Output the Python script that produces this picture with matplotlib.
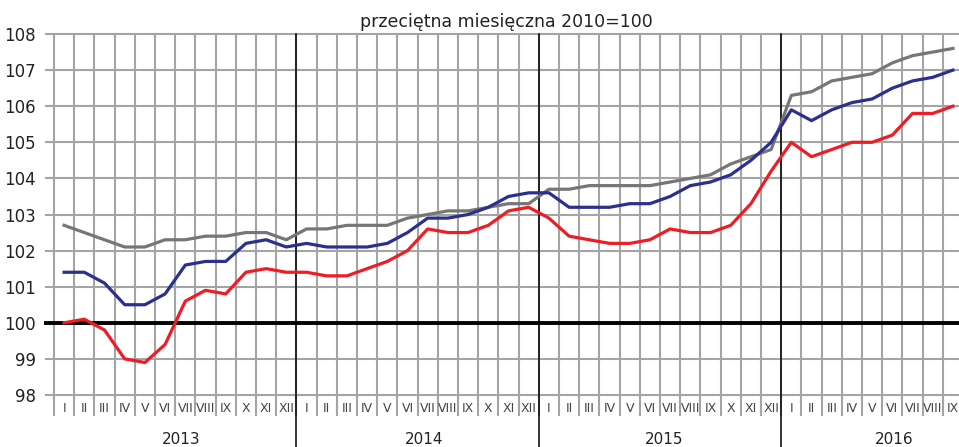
import matplotlib
matplotlib.use("Agg")
import matplotlib.pyplot as plt
import matplotlib.transforms as mtransforms
import numpy as np

months = ["I", "II", "III", "IV", "V", "VI", "VII", "VIII", "IX", "X", "XI", "XII"]
years = ["2013", "2014", "2015", "2016"]
month_labels = months * 3 + months[:9]

gray_series = [102.7, 102.5, 102.3, 102.1, 102.1, 102.3, 102.3, 102.4, 102.4, 102.5, 102.5, 102.3,
               102.6, 102.6, 102.7, 102.7, 102.7, 102.9, 103.0, 103.1, 103.1, 103.2, 103.3, 103.3,
               103.7, 103.7, 103.8, 103.8, 103.8, 103.8, 103.9, 104.0, 104.1, 104.4, 104.6, 104.8,
               106.3, 106.4, 106.7, 106.8, 106.9, 107.2, 107.4, 107.5, 107.6]
blue_series = [101.4, 101.4, 101.1, 100.5, 100.5, 100.8, 101.6, 101.7, 101.7, 102.2, 102.3, 102.1,
               102.2, 102.1, 102.1, 102.1, 102.2, 102.5, 102.9, 102.9, 103.0, 103.2, 103.5, 103.6,
               103.6, 103.2, 103.2, 103.2, 103.3, 103.3, 103.5, 103.8, 103.9, 104.1, 104.5, 105.0,
               105.9, 105.6, 105.9, 106.1, 106.2, 106.5, 106.7, 106.8, 107.0]
red_series = [100.0, 100.1, 99.8, 99.0, 98.9, 99.4, 100.6, 100.9, 100.8, 101.4, 101.5, 101.4,
              101.4, 101.3, 101.3, 101.5, 101.7, 102.0, 102.6, 102.5, 102.5, 102.7, 103.1, 103.2,
              102.9, 102.4, 102.3, 102.2, 102.2, 102.3, 102.6, 102.5, 102.5, 102.7, 103.3, 104.2,
              105.0, 104.6, 104.8, 105.0, 105.0, 105.2, 105.8, 105.8, 106.0]
yticks = [98, 99, 100, 101, 102, 103, 104, 105, 106, 107, 108]
title = "przeciętna miesięczna 2010=100"

GRID = "#a4a4a4"
plt.rcParams['font.family'] = ['DejaVu Sans']

fig = plt.figure(figsize=(9.59, 4.47), dpi=100)
L, R, T, B = 54, 959, 34, 395
ax = fig.add_axes([L / 959, 1 - B / 447, (R - L) / 959, (B - T) / 447])

n = len(month_labels)
x = np.arange(n)
ax.set_xlim(-0.5, 44.3)
ax.set_ylim(98, 108)

for s in ax.spines.values():
    s.set_visible(False)

trans = mtransforms.blended_transform_factory(ax.transData, ax.transAxes)
htrans = mtransforms.blended_transform_factory(ax.transAxes, ax.transData)
axh = B - T
# vertical month grid lines, extending into month-label row
for k in range(n + 1):
    xb = k - 0.5
    ax.plot([xb, xb], [-(415 - B) / axh, 1], transform=trans, color=GRID, lw=1.5,
            clip_on=False, zorder=1)
# horizontal grid lines with ticks extending to the left
for yv in yticks:
    ax.plot([-8 / (R - L), 1], [yv, yv], transform=htrans,
            color="black" if yv == 100 else GRID, lw=2.8 if yv == 100 else 1.5,
            clip_on=False, zorder=2 if yv == 100 else 1)

# year separators
for k in (12, 24, 36):
    ax.plot([k - 0.5, k - 0.5], [-(447 - B) / axh, 1], transform=trans, color="black",
            lw=1.1, clip_on=False, zorder=2)

ax.plot(x, gray_series, color="#767676", lw=2.3, zorder=3, solid_joinstyle="round")
ax.plot(x, blue_series, color="#2b2f8e", lw=2.3, zorder=4, solid_joinstyle="round")
ax.plot(x, red_series, color="#ee1d25", lw=2.3, zorder=5, solid_joinstyle="round")

ax.set_xticks([])
ax.set_yticks(yticks)
ax.set_yticklabels([str(v) for v in yticks], fontsize=12, color="#222222")
ax.tick_params(axis="y", length=0, pad=13)

for i, lab in enumerate(month_labels):
    ax.text(i, -(408 - B) / axh, lab, transform=trans, ha="center", va="center",
            fontsize=9, color="#444444")

year_centers = [5.8, 17.8, 29.7, 41.1]
for yc, yl in zip(year_centers, years):
    ax.text(yc, -(439 - B) / axh, yl, transform=trans, ha="center", va="center",
            fontsize=11, color="#222222")

ax.set_title(title, fontsize=12.5, pad=5, color="#222222")

fig.savefig("out.png", dpi=100)
